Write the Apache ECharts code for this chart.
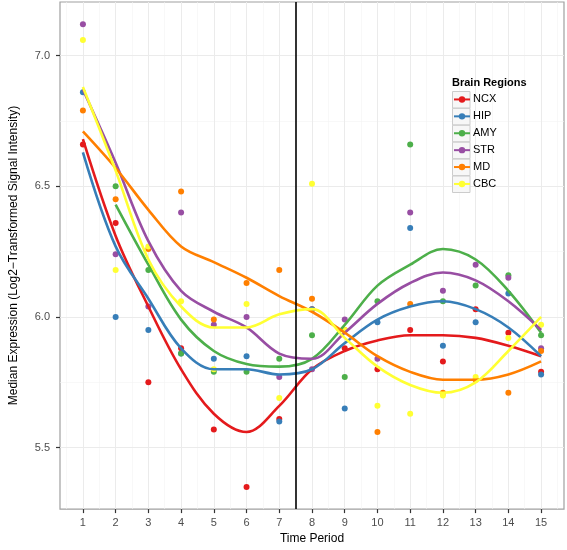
<!DOCTYPE html>
<html>
<head>
<meta charset="utf-8">
<script src="https://cdn.jsdelivr.net/npm/echarts@6/dist/echarts.min.js"></script>
<style>
html,body{margin:0;padding:0;background:#fff;}
#chart{width:567px;height:550px;}
</style>
</head>
<body>
<div id="chart"></div>
<script>
// ---- data ----
const periods = [1,2,3,4,5,6,7,8,9,10,11,12,13,14,15];
const regions = ['NCX','HIP','AMY','STR','MD','CBC'];
const regionColors = ['#E41A1C','#377EB8','#4DAF4A','#984EA3','#FF7F00','#FFFF33'];

// median expression per time period (points)
const ncxPoints = [6.66, 6.36, 5.75, 5.88, 5.57, 5.35, 5.61, 6.03, 5.88, 5.80, 5.95, 5.83, 6.03, 5.94, 5.79];
const hipPoints = [6.86, 6.00, 5.95, 5.86, 5.84, 5.85, 5.60, 6.03, 5.65, 5.98, 6.34, 5.89, 5.98, 6.09, 5.78];
const amyPoints = [null, 6.50, 6.18, 5.86, 5.79, 5.79, 5.84, 5.93, 5.77, 6.06, 6.66, 6.06, 6.12, 6.16, 5.93];
const strPoints = [7.12, 6.24, 6.04, 6.40, 5.97, 6.00, 5.77, 5.80, 5.99, 5.84, 6.40, 6.10, 6.20, 6.15, 5.88];
const mdPoints  = [6.79, 6.45, 6.26, 6.48, 5.99, 6.13, 6.18, 6.07, 5.95, 5.56, 6.05, 5.71, 5.76, 5.71, 5.87];
const cbcPoints = [7.06, 6.18, 6.27, 6.06, 5.80, 6.05, 5.69, 6.51, 5.95, 5.66, 5.63, 5.70, 5.77, 5.92, 5.97];

// smoothed trend values read at each time period
const ncxFit = [6.68, 6.31, 6.04, 5.80, 5.63, 5.56, 5.66, 5.80, 5.87, 5.91, 5.93, 5.93, 5.92, 5.89, 5.85];
const hipFit = [6.63, 6.27, 6.07, 5.88, 5.80, 5.80, 5.78, 5.80, 5.90, 5.99, 6.04, 6.06, 6.03, 5.96, 5.85];
const amyFit = [null, 6.43, 6.20, 5.99, 5.87, 5.82, 5.81, 5.84, 5.97, 6.12, 6.20, 6.26, 6.22, 6.10, 5.94];
const strFit = [6.87, 6.59, 6.29, 6.10, 6.02, 5.96, 5.86, 5.84, 5.94, 6.05, 6.13, 6.17, 6.14, 6.06, 5.95];
const mdFit  = [6.71, 6.57, 6.41, 6.27, 6.21, 6.15, 6.08, 6.02, 5.94, 5.85, 5.79, 5.76, 5.76, 5.78, 5.83];
const cbcFit = [6.88, 6.56, 6.22, 6.04, 5.96, 5.96, 6.01, 6.03, 5.92, 5.81, 5.74, 5.71, 5.75, 5.87, 6.00];

const xTickValues = [1,2,3,4,5,6,7,8,9,10,11,12,13,14,15];
const yTickValues = [5.5, 6.0, 6.5, 7.0];
const xMinorGrid = [0.5,1.5,2.5,3.5,4.5,5.5,6.5,7.5,8.5,9.5,10.5,11.5,12.5,13.5,14.5,15.5];
const yMinorGrid = [5.75, 6.25, 6.75];
const dividerPeriod = 7.5;

const pointSets = [ncxPoints, hipPoints, amyPoints, strPoints, mdPoints, cbcPoints];
const fitSets = [ncxFit, hipFit, amyFit, strFit, mdFit, cbcFit];

function pairs(arr){
  return periods.map((t,i)=>[t, arr[i]]).filter(d=>d[1]!==null);
}

const chart = echarts.init(document.getElementById('chart'), null, {renderer:'canvas'});
const FONT = 'Liberation Sans, Arial, Helvetica, sans-serif';

const series = [];
// grid lines (drawn behind everything)
series.push({
  type:'scatter', data:[], silent:true, z:0,
  markLine:{
    silent:true, symbol:['none','none'], label:{show:false},
    animation:false, z:0,
    data: [
      ...xMinorGrid.map(v=>({xAxis:v, lineStyle:{color:'#F4F4F4', width:0.6, type:'solid'}})),
      ...yMinorGrid.map(v=>({yAxis:v, lineStyle:{color:'#F4F4F4', width:0.6, type:'solid'}})),
      ...xTickValues.map(v=>({xAxis:v, lineStyle:{color:'#EBEBEB', width:1, type:'solid'}})),
      ...yTickValues.map(v=>({yAxis:v, lineStyle:{color:'#EBEBEB', width:1, type:'solid'}}))
    ]
  }
});
// points
regions.forEach((name,i)=>{
  series.push({
    type:'scatter', name:name+' points', data:pairs(pointSets[i]),
    symbol:'circle', symbolSize:6, z:2, silent:true,
    itemStyle:{color:regionColors[i], opacity:1}
  });
});
// smoothed lines
regions.forEach((name,i)=>{
  series.push({
    type:'line', name:name, data:pairs(fitSets[i]),
    smooth:0.35, showSymbol:false, symbol:'circle', symbolSize:6, z:3,
    lineStyle:{color:regionColors[i], width:2.6},
    itemStyle:{color:regionColors[i]}
  });
});
// divider line
series.push({
  type:'scatter', data:[], z:4, silent:true,
  markLine:{
    silent:true, symbol:['none','none'], label:{show:false}, animation:false, z:4,
    data:[{xAxis:dividerPeriod}],
    lineStyle:{color:'#000', width:1.6, type:'solid'}
  }
});

const legendTop = 91;
const legendPitch = 16.9;
const keyBoxes = regions.map((r,i)=>({
  type:'rect', left:452, top:legendTop + i*legendPitch, z:3,
  shape:{width:17.5, height:16.5},
  style:{fill:'#F7F7F7', stroke:'#CCCCCC', lineWidth:1}
}));

chart.setOption({
  animation:false,
  backgroundColor:'#fff',
  title:{
    text:'Brain Regions', left:452, top:77, padding:0,
    textStyle:{fontFamily:FONT, fontSize:11, fontWeight:'bold', color:'#000'}
  },
  grid:{left:59, right:3, top:2, bottom:36, show:true, borderColor:'#A0A0A0', borderWidth:1.2, backgroundColor:'#fff'},
  xAxis:{
    type:'value', min:0.3, max:15.7,
    name:'Time Period', nameLocation:'middle', nameGap:22,
    nameTextStyle:{fontFamily:FONT, fontSize:12, color:'#000'},
    axisLine:{show:false},
    axisTick:{show:true, customValues:xTickValues, length:4, lineStyle:{color:'#333', width:1.2}},
    axisLabel:{customValues:xTickValues, margin:8, fontFamily:FONT, fontSize:11, color:'#4D4D4D'},
    splitLine:{show:false}
  },
  yAxis:{
    type:'value', min:5.265, max:7.205,
    name:'Median Expression (Log2\u2212Transformed Signal Intensity)',
    nameLocation:'middle', nameGap:40, nameRotate:90,
    nameTextStyle:{fontFamily:FONT, fontSize:12, color:'#000'},
    axisLine:{show:false},
    axisTick:{show:true, customValues:yTickValues, length:4, lineStyle:{color:'#333', width:1.2}},
    axisLabel:{customValues:yTickValues, margin:10, fontFamily:FONT, fontSize:11, color:'#4D4D4D',
      formatter:v=>Number(v).toFixed(1)},
    splitLine:{show:false}
  },
  legend:{
    orient:'vertical', left:453, top:legendTop, itemGap:0, z:6, padding:0,
    itemWidth:16, itemHeight:8,
    data:regions,
    textStyle:{fontFamily:FONT, fontSize:11, color:'#000', lineHeight:16.9, padding:[0,0,0,-2]},
    selectedMode:false
  },
  graphic:keyBoxes,
  series:series
});
</script>
</body>
</html>
